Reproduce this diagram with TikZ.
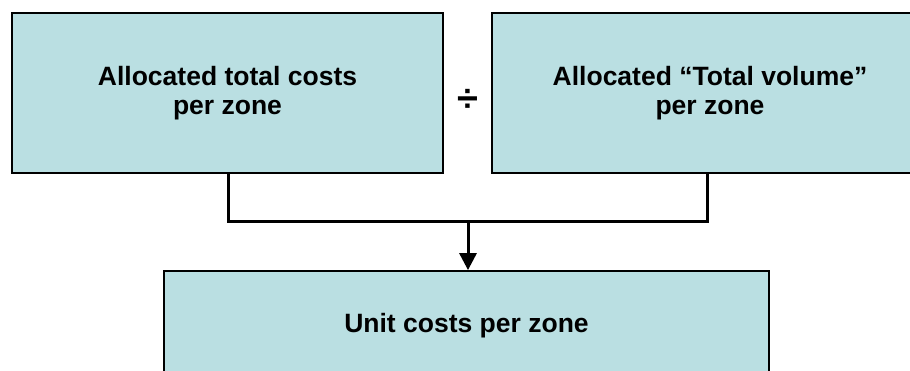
\documentclass[tikz,border=0pt]{standalone}
\usepackage{fontspec}
\setmainfont{Liberation Sans}
\usepackage{xcolor}
\usetikzlibrary{positioning,arrows.meta}
\definecolor{zonefill}{RGB}{186,223,226}

\begin{document}
\begin{tikzpicture}[x=1pt,y=-1pt,
					box/.style={
						draw, line width=1.8pt, fill=zonefill,
						minimum width=431pt, minimum height=160pt,
						align=center, inner sep=0pt,
						font=\fontsize{26.5}{28.5}\selectfont\bfseries
					},
					conn/.style={
						line width=3pt
					}
					]
					\useasboundingbox (0,0) rectangle (910,370);
					\clip (0,0) rectangle (910,370);
					
					% top row
					\node[box] (cost) at (227.5,93) {Allocated total costs\\per zone};
					\node[box, minimum width=436pt] (vol) at (710,93) {Allocated “Total volume”\\per zone};
					\node[font=\fontsize{38}{38}\selectfont\bfseries] (div) at (467.5,100) {÷};
					
					% result
					\node[box, minimum width=605pt, minimum height=109pt] (unit) at (466.5,325.5) {Unit costs per zone};
					
					\coordinate (join) at (468,221);
					\draw[conn] ([xshift=0.5pt]cost.south) |- (join) -| ([xshift=-3pt]vol.south);
					\draw[conn,-{Triangle[length=17pt,width=17pt]}] (join) -- (join |- unit.north);
				\end{tikzpicture}
\end{document}
